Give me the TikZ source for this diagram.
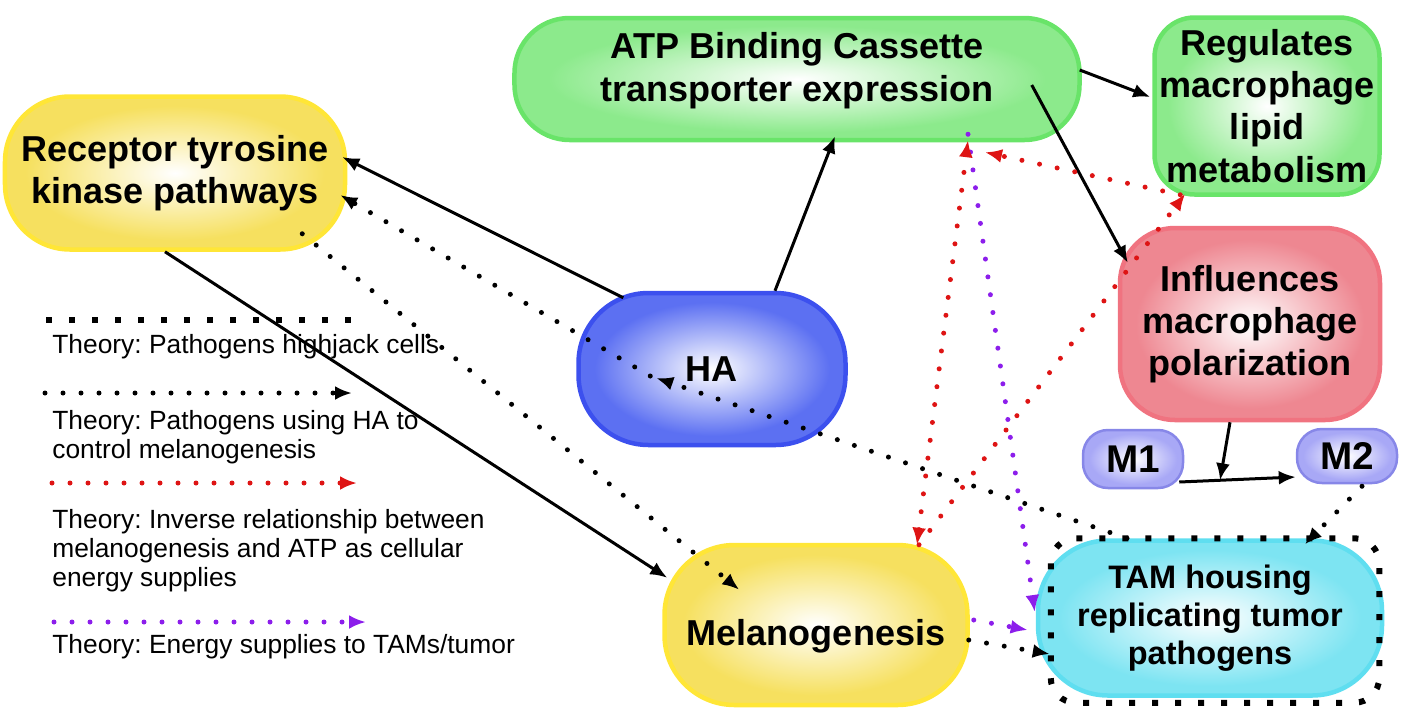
\documentclass[tikz,border=0pt]{standalone}
\usepackage{amsmath}
\usepackage{fontspec}
\setmainfont{Liberation Sans}
\usepackage{tikz}
\usetikzlibrary{arrows.meta,calc}

\definecolor{ylwline}{RGB}{255,230,55}
\definecolor{ylwfill}{RGB}{246,224,95}
\definecolor{grnline}{RGB}{105,228,105}
\definecolor{grnfill}{RGB}{140,234,140}
\definecolor{redline}{RGB}{240,115,128}
\definecolor{redfill}{RGB}{238,135,145}
\definecolor{bluline}{RGB}{60,80,238}
\definecolor{blufill}{RGB}{92,112,242}
\definecolor{lavline}{RGB}{135,135,232}
\definecolor{lavfill}{RGB}{168,168,246}
\definecolor{cynline}{RGB}{95,222,240}
\definecolor{cynfill}{RGB}{125,228,242}
\definecolor{dotred}{RGB}{222,20,20}
\definecolor{dotpurple}{RGB}{140,30,235}

\colorlet{glowout}{white}
\pgfdeclareradialshading[glowout]{glow}{\pgfpoint{0bp}{0bp}}{color(0bp)=(white); color(22bp)=(glowout); color(50bp)=(glowout)}

\frenchspacing

\begin{document}
\begin{tikzpicture}[x=0.2mm, y=-0.2mm,
	>={Latex[length=3.4mm,width=2.8mm]},
	pill/.style={draw, line width=0.9mm, align=center, inner sep=0pt, shade, shading=glow, font=\bfseries\fontsize{20.5}{24}\selectfont},
	tint/.code={\colorlet{glowout}{#1}},
	arr/.style={line width=0.6mm, ->},
	viaha/.style={line width=1mm, line cap=round, dash pattern=on 0pt off 3.6mm, ->},
	inverse/.style={viaha, dotred},
	energy/.style={viaha, dotpurple},
	hijack/.style={line width=1.2mm, line cap=butt, dash pattern=on 1.2mm off 3.4mm},
	legend/.style={anchor=west, align=left, inner sep=0pt, font=\fontsize{15}{16.5}\selectfont}]

	\useasboundingbox (0,0) rectangle (1417,709);

	\node[pill, draw=ylwline, tint=ylwfill, minimum width=6.8cm, minimum height=3.06cm, rounded corners=1.3cm] (rtk) at (175,173) {Receptor tyrosine\\kinase pathways};
	\node[pill, draw=grnline, tint=grnfill, minimum width=11.3cm, minimum height=2.44cm, rounded corners=1.1cm] (abc) at (797,79) {\raisebox{0.15cm}[\height][\depth]{\begin{tabular}{@{}c@{}}ATP Binding Cassette\\transporter expression\end{tabular}}};
	\node[pill, draw=grnline, tint=grnfill, minimum width=4.5cm, minimum height=3.54cm, rounded corners=0.8cm] (lipid) at (1267,106) {Regulates\\macrophage\\lipid\\metabolism};
	\node[pill, draw=redline, tint=redfill, minimum width=5.2cm, minimum height=3.84cm, rounded corners=1.1cm] (polar) at (1250,324) {Influences\\macrophage\\polarization};
	\node[pill, draw=bluline, tint=blufill, minimum width=5.34cm, minimum height=3.04cm, rounded corners=1.4cm] (ha) at (712,369) {HA};
	\node[pill, draw=lavline, tint=lavfill, line width=0.5mm, minimum width=2cm, minimum height=1.16cm, rounded corners=0.5cm, font=\bfseries\fontsize{22}{24}\selectfont] (mone) at (1133,459) {M1};
	\node[pill, draw=lavline, tint=lavfill, line width=0.5mm, minimum width=2cm, minimum height=1.08cm, rounded corners=0.5cm, font=\bfseries\fontsize{22}{24}\selectfont] (mtwo) at (1347,456) {M2};
	\node[pill, draw=ylwline, tint=ylwfill, minimum width=6.06cm, minimum height=3.2cm, rounded corners=1.4cm] (mel) at (816,625) {\raisebox{-0.22cm}[\height][\depth]{Melanogenesis}};
	\node[pill, draw=cynline, tint=cynfill, minimum width=6.88cm, minimum height=3.1cm, rounded corners=1.4cm, font=\bfseries\fontsize{18.5}{21.5}\selectfont] (tam) at (1210,618) {TAM housing\\replicating tumor\\pathogens};

	\draw[hijack, rounded corners=0.5cm] ([shift={(15,0)}]tam.north west) rectangle ([shift={(-5,5)}]tam.south east);

	\draw[arr] ([shift={(47,7)}]ha.north west) -- ([shift={(-5,-16)}]rtk.east);
	\draw[arr] ([shift={(63,0)}]ha.north) -- ([shift={(38,-6)}]abc.south);
	\draw[arr] ([shift={(-10,0)}]rtk.south) -- ([shift={(5,35)}]mel.north west);
	\draw[arr] ([shift={(-2,-9)}]abc.east) -- ([shift={(-2,-9)}]lipid.west);
	\draw[arr] ([shift={(-50,6)}]abc.east) -- ([shift={(10,37)}]polar.north west);
	\draw[arr] ([shift={(-5,23)}]mone.east) coordinate (mstart) -- ([shift={(0,21)}]mtwo.west) coordinate (mend);
	\draw[arr] ([shift={(-20,0)}]polar.south) -- ($(mstart)!0.35!(mend)$);

	\draw[viaha] ([shift={(74,7)}]ha.west) -- ([shift={(-7,22)}]rtk.east);
	\draw[viaha] ([shift={(-83,0)}]tam.north) -- ([shift={(80,9)}]ha.west);
	\draw[viaha] ([shift={(-45,-18)}]rtk.south east) -- ([shift={(77,47)}]mel.north west);
	\draw[viaha] ([shift={(-1,15)}]mel.east) -- ([shift={(14,36)}]tam.west);
	\draw[viaha] ([shift={(15,2)}]mtwo.south) -- ([shift={(95,6)}]tam.north);

	\draw[energy] ([shift={(171,-8)}]abc.south) -- ([shift={(-1,-6)}]tam.west);
	\draw[energy] ([shift={(4,-5)}]mel.east) -- ([shift={(-8,12)}]tam.west);

	\draw[inverse, <->] ([shift={(101,2)}]mel.north) -- ([shift={(171,-2)}]abc.south);
	\draw[inverse] ([shift={(103,2)}]mel.north) -- ([shift={(33,-3)}]lipid.south west);
	\draw[inverse] ([shift={(28,-2)}]lipid.south west) -- ([shift={(188,10)}]abc.south);

	\coordinate (ka) at (46,320);
	\coordinate (kb) at (364,320);
	\coordinate (kc) at (45,393);
	\coordinate (kd) at (352,393);
	\coordinate (ke) at (52,483);
	\coordinate (kf) at (357,483);
	\coordinate (kg) at (54,622);
	\coordinate (kh) at (366,622);

	\draw[hijack] (ka) -- (kb);
	\node[legend] (lhijack) at (52,347) {Theory: Pathogens highjack cells};
	\draw[viaha] (kc) -- (kd);
	\node[legend] (lviaha) at (52,437) {Theory: Pathogens using HA to\\control melanogenesis};
	\draw[inverse] (ke) -- (kf);
	\node[legend] (linverse) at (52,551) {Theory: Inverse relationship between\\melanogenesis and ATP as cellular\\energy supplies};
	\draw[energy] (kg) -- (kh);
	\node[legend] (lenergy) at (52,647) {Theory: Energy supplies to TAMs/tumor};

\end{tikzpicture}
\end{document}
